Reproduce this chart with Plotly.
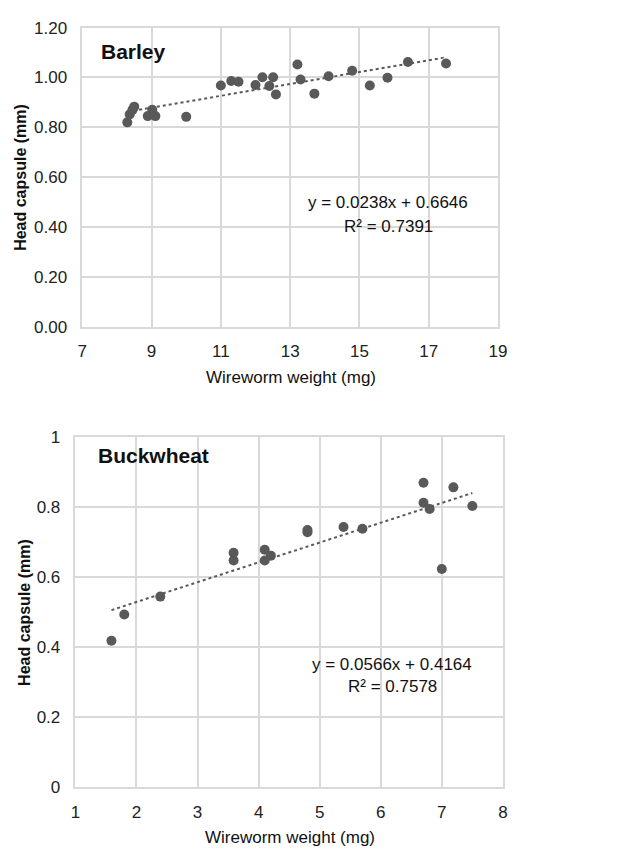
import plotly.graph_objects as go

# Barley data
barley_weight = [8.30, 8.37, 8.50, 8.45, 8.89, 9.02, 9.11, 10.0, 11.0, 11.30, 11.51, 12.0,
                 12.20, 12.40, 12.51, 12.59, 13.21, 13.30, 13.70, 14.11, 14.79, 15.30, 15.81, 16.40, 17.50]
barley_head = [0.82, 0.852, 0.883, 0.87, 0.845, 0.87, 0.845, 0.842, 0.968, 0.986, 0.983, 0.97,
               1.001, 0.966, 1.001, 0.932, 1.052, 0.992, 0.935, 1.005, 1.027, 0.968, 0.999, 1.062, 1.056]
barley_slope, barley_int, barley_r2 = 0.0238, 0.6646, 0.7391

# Buckwheat data
buck_weight = [1.59, 1.80, 2.39, 3.59, 3.59, 4.10, 4.10, 4.20, 4.80, 4.80, 5.39, 5.70,
               6.70, 6.70, 6.80, 7.00, 7.19, 7.50]
buck_head = [0.419, 0.494, 0.545, 0.670, 0.648, 0.679, 0.648, 0.662, 0.735, 0.729, 0.744, 0.739,
             0.870, 0.813, 0.795, 0.624, 0.857, 0.804]
buck_slope, buck_int, buck_r2 = 0.0566, 0.4164, 0.7578

W, H = 641, 859
def fx(px): return px / W
def fy(py): return 1 - py / H

MARK = "#595959"
GRID = "#d9d9d9"
FONT = "Liberation Sans, Arial, sans-serif"

fig = go.Figure()

def add_panel(xs, ys, slope, icpt, xa, ya):
    fig.add_trace(go.Scatter(x=xs, y=ys, mode="markers",
                             marker=dict(color=MARK, size=10),
                             xaxis=xa, yaxis=ya, showlegend=False))
    x0, x1 = min(xs), max(xs)
    fig.add_trace(go.Scatter(x=[x0, x1], y=[slope * x0 + icpt, slope * x1 + icpt], mode="lines",
                             line=dict(color="#595959", width=2, dash="dot"),
                             xaxis=xa, yaxis=ya, showlegend=False))

add_panel(barley_weight, barley_head, barley_slope, barley_int, "x", "y")
add_panel(buck_weight, buck_head, buck_slope, buck_int, "x2", "y2")

axis_common = dict(showgrid=True, gridcolor=GRID, gridwidth=1.5, zeroline=False,
                   showline=True, linecolor=GRID, linewidth=1.5, mirror=True,
                   ticks="", tickfont=dict(family=FONT, size=17, color="#222"))

fig.update_layout(
    width=W, height=H, margin=dict(l=0, r=0, t=0, b=0),
    paper_bgcolor="white", plot_bgcolor="white",
    xaxis=dict(domain=[fx(79), fx(504)], range=[7, 19], tick0=7, dtick=2, anchor="y",
               ticklabelstandoff=8, **axis_common),
    yaxis=dict(domain=[fy(325), fy(19)], range=[0, 1.2], dtick=0.2, tickformat=".2f", anchor="x",
               ticklabelstandoff=10, **axis_common),
    xaxis2=dict(domain=[fx(72), fx(509)], range=[1, 8], dtick=1, anchor="y2",
                ticklabelstandoff=8, **axis_common),
    yaxis2=dict(domain=[fy(796), fy(438)], range=[0, 1], dtick=0.2, anchor="x2",
                ticklabelstandoff=10, **axis_common),
)

ann = []
def A(text, x, y, size=17, bold=False, angle=0, xanchor="center"):
    ann.append(dict(text=f"<b>{text}</b>" if bold else text, x=fx(x), y=fy(y), xref="paper", yref="paper",
                    showarrow=False, textangle=angle, xanchor=xanchor, yanchor="middle",
                    font=dict(family=FONT, size=size, color="#111")))

A("Barley", 96, 43, size=21, bold=True, xanchor="left")
A(f"y = {barley_slope}x + {barley_int}", 392, 198)
A(f"R² = {barley_r2}", 392, 222)
A("Wireworm weight (mg)", 292, 377)
A("Head capsule (mm)", 16, 172, size=16, bold=True, angle=-90)

A("Buckwheat", 93, 457, size=21, bold=True, xanchor="left")
A(f"y = {buck_slope}x + {buck_int}", 396, 670)
A(f"R² = {buck_r2}", 396, 693)
A("Wireworm weight (mg)", 291, 847)
A("Head capsule (mm)", 20, 617, size=16, bold=True, angle=-90)

fig.update_layout(annotations=ann)
fig.write_html("out.html", config={"displayModeBar": False},
               post_script="document.body.style.margin='0';document.body.style.overflow='hidden';")
